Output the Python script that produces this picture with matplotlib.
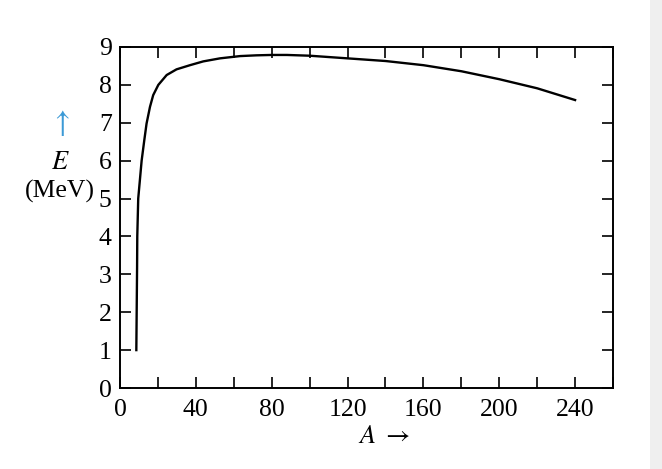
import matplotlib
matplotlib.use('Agg')
import matplotlib.pyplot as plt
from matplotlib.patches import Rectangle

# binding energy per nucleon
mass_number = [8.6, 9.0, 9.1, 9.6, 11.4, 12.8, 14.0, 15.8, 17.5, 20.2, 24.6,
               29.8, 36.9, 43.9, 52.7, 63.3, 72, 80, 88, 100, 120, 140, 160,
               180, 200, 220, 240]
energy_mev  = [1.0, 3.2, 4.0, 5.0, 6.0, 6.54, 6.98, 7.42, 7.73, 8.0, 8.26,
               8.41, 8.52, 8.62, 8.70, 8.76, 8.78, 8.79, 8.79, 8.77, 8.70, 8.63,
               8.52, 8.36, 8.15, 7.91, 7.60]

x_ticks_major = [0, 40, 80, 120, 160, 200, 240]
x_ticks_minor = [20, 60, 100, 140, 180, 220, 260]
y_ticks = list(range(0, 10))

plt.rcParams['font.family'] = ['Liberation Serif', 'DejaVu Serif']
plt.rcParams['mathtext.fontset'] = 'stix'

fig = plt.figure(figsize=(6.62, 4.69), dpi=100)
ax = fig.add_axes([0.1813, 0.1727, 0.7447, 0.7271])

ax.plot(mass_number, energy_mev, color='black', lw=1.7)

ax.set_xlim(0, 260)
ax.set_ylim(0, 9)
ax.set_xticks(x_ticks_major)
ax.set_xticks(x_ticks_minor, minor=True)
ax.set_yticks(y_ticks)
ax.tick_params(which='both', direction='in', length=8, width=1.2,
               top=True, right=True, labelsize=18.5)
ax.tick_params(axis='y', pad=6)
ax.tick_params(axis='x', pad=8)
for s in ax.spines.values():
    s.set_linewidth(1.4)

fig.text(384 / 662, 1 - 437 / 469, r'$A$ $\rightarrow$', fontsize=19,
         ha='center', va='center')

fig.text(60 / 662, 1 - 123 / 469, r'$\uparrow$', color='#3c9ad6', fontsize=22,
         ha='center', va='center')
fig.text(60 / 662, 1 - 163 / 469, r'$E$', fontsize=19, ha='center', va='center')
fig.text(60 / 662, 1 - 191 / 469, '(MeV)', fontsize=18.5, ha='center', va='center')

fig.add_artist(Rectangle((650 / 662, 0), 12 / 662, 1, transform=fig.transFigure,
                         facecolor='#efefef', edgecolor='none'))

fig.savefig('out.png', dpi=100)
